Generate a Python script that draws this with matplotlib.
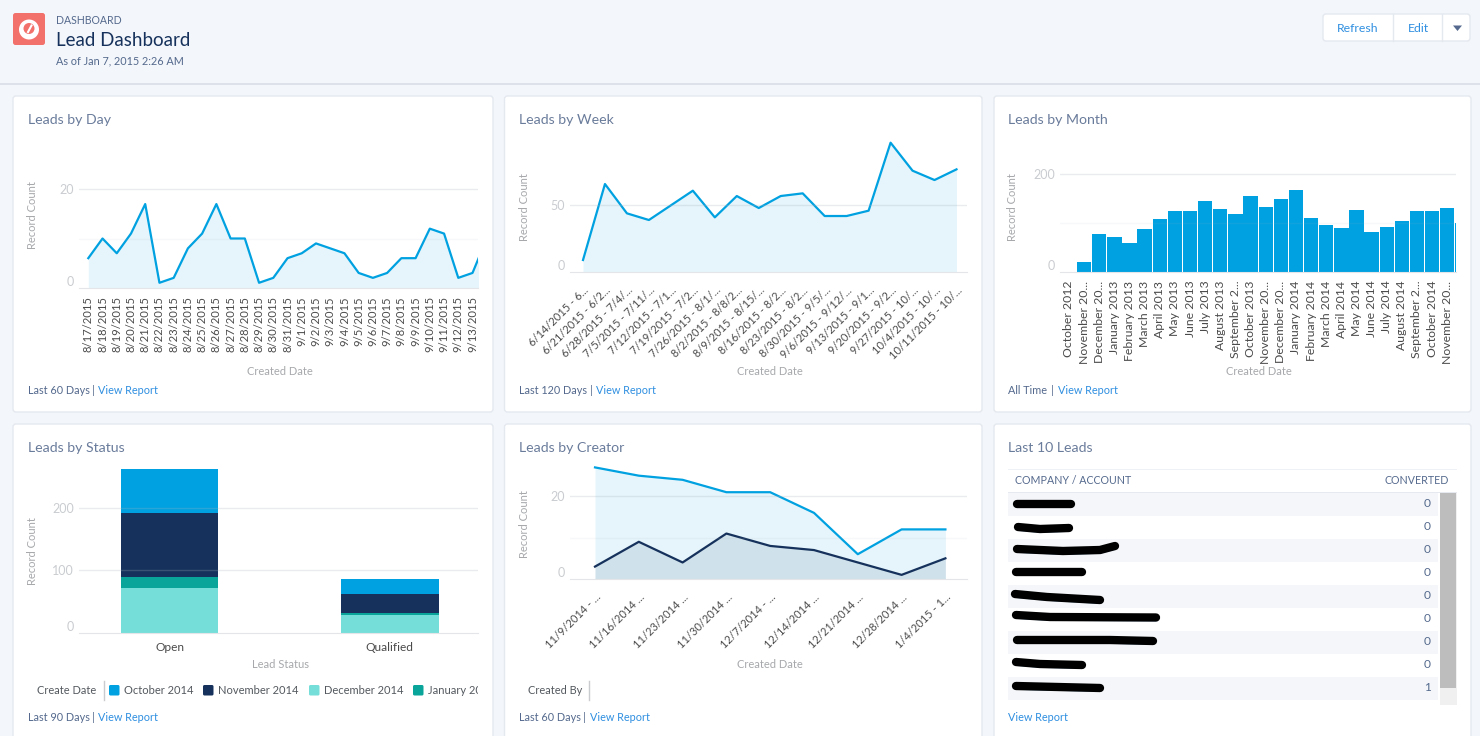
#!/usr/bin/env python3
# -*- coding: utf-8 -*-
import matplotlib
matplotlib.use("Agg")
import matplotlib.pyplot as plt
from matplotlib.patches import FancyBboxPatch, Rectangle, Circle

plt.rcParams['font.family'] = ['Lato', 'DejaVu Sans']

# data
day_labels = ["8/17/2015", "8/18/2015", "8/19/2015", "8/20/2015", "8/21/2015", "8/22/2015", "8/23/2015",
              "8/24/2015", "8/25/2015", "8/26/2015", "8/27/2015", "8/28/2015", "8/29/2015", "8/30/2015",
              "8/31/2015", "9/1/2015", "9/2/2015", "9/3/2015", "9/4/2015", "9/5/2015", "9/6/2015",
              "9/7/2015", "9/8/2015", "9/9/2015", "9/10/2015", "9/11/2015", "9/12/2015", "9/13/2015"]
# last value belongs to a day cut off by the card edge
day_values = [6, 10, 7, 11, 17, 1, 2, 8, 11, 17, 10, 10, 1, 2, 6, 7, 9, 8, 7, 3, 2, 3, 6, 6, 12, 11, 2, 3, 10]

week_labels = ["6/14/2015 - 6...", "6/21/2015 - 6/2...", "6/28/2015 - 7/4/...", "7/5/2015 - 7/11/...",
               "7/12/2015 - 7/1...", "7/19/2015 - 7/2...", "7/26/2015 - 8/1/...", "8/2/2015 - 8/8/2...",
               "8/9/2015 - 8/15/...", "8/16/2015 - 8/2...", "8/23/2015 - 8/2...", "8/30/2015 - 9/5/...",
               "9/6/2015 - 9/12/...", "9/13/2015 - 9/1...", "9/20/2015 - 9/2...", "9/27/2015 - 10/...",
               "10/4/2015 - 10/...", "10/11/2015 - 10/..."]
week_values = [9, 66, 44, 39, 50, 61, 41, 57, 48, 57, 59, 42, 42, 46, 97, 76, 69, 77]

month_labels = ["October 2012", "November 20...", "December 20...", "January 2013", "February 2013",
                "March 2013", "April 2013", "May 2013", "June 2013", "July 2013", "August 2013",
                "September 2...", "October 2013", "November 20...", "December 20...", "January 2014",
                "February 2014", "March 2014", "April 2014", "May 2014", "June 2014", "July 2014",
                "August 2014", "September 2...", "October 2014", "November 20..."]
month_values = [1, 20, 77, 72, 60, 89, 108, 124, 124, 144, 129, 119, 156, 132, 150, 167, 110, 96, 91, 127,
                81, 92, 105, 125, 124, 130, 100]

status_labels = ["Open", "Qualified"]
status_december = [72, 29]
status_january = [17, 4]
status_november = [103, 30]
status_october = [70, 23]

creator_labels = ["11/9/2014 - ...", "11/16/2014 ...", "11/23/2014 ...", "11/30/2014 ...", "12/7/2014 - ...",
                  "12/14/2014 ...", "12/21/2014 ...", "12/28/2014 ...", "1/4/2015 - 1..."]
creator_a = [27, 25, 24, 21, 21, 16, 6, 12, 12]
creator_b = [3, 9, 4, 11, 8, 7, 4, 1, 5]

converted = [0, 0, 0, 0, 0, 0, 0, 0, 1]

# colours
BLUE = "#00a1e0"
NAVY = "#16325c"
TEAL_LIGHT = "#76ded9"
TEAL = "#0aa59a"
SLATE = "#54698d"
LINK = "#2f8fe0"
PAGE = "#f3f6fa"
CORAL = "#f2716b"


def chart_axes(left, right, top, bottom, first_px, step_px, px_per_unit):
    # axes placed by pixels, index positions and values keep the picture's scale
    ax = fig.add_axes([left/W, 1-bottom/H, (right-left)/W, (bottom-top)/H], zorder=2)
    ax.patch.set_alpha(0)
    ax.set_xlim((left-first_px)/step_px, (right-first_px)/step_px)
    ax.set_ylim(0, (bottom-top)/px_per_unit)
    for s in ax.spines.values():
        s.set_visible(False)
    ax.spines['bottom'].set_visible(True)
    ax.spines['bottom'].set_color("#e3e5e8")
    ax.spines['bottom'].set_zorder(6)
    ax.tick_params(axis='both', length=0)
    return ax


def style_y(ax, major, minor=()):
    ax.set_yticks(major)
    ax.set_yticks(list(minor), minor=True)
    ax.tick_params(axis='y', which='both', length=0, pad=3.5, labelsize=9, labelcolor="#c9ccd0")
    ax.get_yticklabels()[0].set_va('bottom')
    for v in major[1:]:
        ax.axhline(v, color="#a9b2bd", alpha=0.25, lw=1, zorder=5)
    for v in minor:
        ax.axhline(v, color="#a9b2bd", alpha=0.09, lw=1, zorder=5)


def axis_labels(ax, xlabel, xpos, ypos):
    ax.set_xlabel(xlabel, fontsize=8, color="#a6a8ab", va='center')
    ax.xaxis.set_label_coords(xpos[0], xpos[1], transform=bg.transData)
    ax.set_ylabel("Record Count", fontsize=8, color="#a6a8ab", va='center')
    ax.yaxis.set_label_coords(ypos[0], ypos[1], transform=bg.transData)


def area(ax, values, color):
    xs = range(len(values))
    ax.fill_between(xs, values, color=color, alpha=0.1, lw=0, zorder=2)
    ax.plot(xs, values, color=color, lw=1.6, zorder=3, solid_joinstyle='round')


def card(x0, y0, x1, y1):
    bg.add_patch(FancyBboxPatch((x0, y0), x1-x0, y1-y0, boxstyle="round,pad=0,rounding_size=3",
                                fc="white", ec="#e4e9f0", lw=1))


def card_text(x, y, title, footer, link_x):
    bg.text(x, y+1, title, fontsize=10.2, color="#6a7c9b", va='center')
    foot_y = 390 if y < 300 else 717.5
    if footer:
        bg.text(x, foot_y, footer, fontsize=7.8, color=SLATE, va='center')
        bg.text(link_x-5, foot_y, "|", fontsize=7.8, color=SLATE, va='center', ha='center')
    bg.text(link_x, foot_y, "View Report", fontsize=7.8, color=LINK, va='center')


W, H = 1480, 736
fig = plt.figure(figsize=(W/100, H/100), dpi=100, facecolor=PAGE)
bg = fig.add_axes([0, 0, 1, 1], zorder=1)
bg.set_xlim(0, W)
bg.set_ylim(H, 0)
bg.axis('off')

# page header
bg.add_patch(Rectangle((0, 83), W, 2, fc="#dde2ea", ec="none"))
bg.add_patch(FancyBboxPatch((13, 13), 32, 32, boxstyle="round,pad=0,rounding_size=2.5", fc=CORAL, ec="none"))
bg.add_patch(Circle((29, 29.5), 10, fc="white", ec="none"))
bg.add_patch(Circle((29, 28.5), 5.5, fc=CORAL, ec="none"))
bg.plot([28, 31.5], [32, 25.5], color="white", lw=1.5)
bg.text(56, 20, "DASHBOARD", fontsize=7.6, color=SLATE, va='center')
bg.text(56, 40.5, "Lead Dashboard", fontsize=13.5, color=NAVY, va='center')
bg.text(56, 61, "As of Jan 7, 2015 2:26 AM", fontsize=7.8, color=SLATE, va='center')

bg.add_patch(FancyBboxPatch((1323, 14), 147, 27, boxstyle="round,pad=0,rounding_size=3", fc="white", ec="#e4e9f0", lw=1))
bg.plot([1393, 1393], [14, 41], color="#e4e9f0", lw=1)
bg.plot([1442, 1442], [14, 41], color="#e4e9f0", lw=1)
bg.text(1358, 28, "Refresh", fontsize=8.8, color=LINK, ha='center', va='center')
bg.text(1418, 28, "Edit", fontsize=8.8, color=LINK, ha='center', va='center')
bg.fill([1453, 1462, 1457.5], [25.5, 25.5, 31], color=SLATE, lw=0)

# cards
card(13, 96, 493, 412)
card(504.5, 96, 982, 412)
card(994, 96, 1471, 412)
card(13, 424, 493, 760)
card(504.5, 424, 982, 760)
card(994, 424, 1471, 760)
card_text(28, 119, "Leads by Day", "Last 60 Days", 98)
card_text(519, 119, "Leads by Week", "Last 120 Days", 596)
card_text(1008, 119, "Leads by Month", "All Time", 1057.5)
card_text(28, 447, "Leads by Status", "Last 90 Days", 98)
card_text(519, 447, "Leads by Creator", "Last 60 Days", 589.5)
card_text(1008, 447, "Last 10 Leads", "", 1008)

# Leads by Day
ax = chart_axes(79, 478, 140, 287.7, 88.3, 14.23, 4.92)
area(ax, day_values, BLUE)
ax.set_xticks(range(len(day_labels)), day_labels, rotation=90, fontsize=8.1, color="#4a4a4a")
ax.tick_params(axis='x', pad=6)
style_y(ax, [0, 20], [10])
axis_labels(ax, "Created Date", (280, 371.5), (32, 215))

# Leads by Week
ax = chart_axes(570, 967, 130, 272, 583, 21.97, 1.333)
area(ax, week_values, BLUE)
ax.set_xticks(range(len(week_labels)), week_labels, rotation=45, fontsize=7.9, color="#4a4a4a",
              ha='right', va='top', rotation_mode='anchor')
ax.tick_params(axis='x', pad=9)
style_y(ax, [0, 50])
axis_labels(ax, "Created Date", (770, 371.5), (524, 207))

# Leads by Month
ax = chart_axes(1060, 1456, 160, 272.3, 1069, 15.13, 0.4917)
ax.bar(range(len(month_values)), month_values, width=0.95, color="#00a1e0", zorder=2)
ax.set_xticks(range(len(month_labels)), month_labels, rotation=90, fontsize=8.8, color="#4a4a4a")
ax.tick_params(axis='x', pad=6)
style_y(ax, [0, 200], [100])
axis_labels(ax, "Created Date", (1259, 371.5), (1013, 207))

# Leads by Status
ax = chart_axes(79, 478, 460, 633.3, 169.5, 220.3, 0.6283)
bottom = [0, 0]
for vals, col in [(status_december, TEAL_LIGHT), (status_january, TEAL),
                  (status_november, NAVY), (status_october, BLUE)]:
    ax.bar(range(2), vals, width=0.443, bottom=bottom, color=col, zorder=2)
    bottom = [b+v for b, v in zip(bottom, vals)]
ax.set_xticks(range(2), status_labels, fontsize=8.6, color="#4a4a4a")
ax.tick_params(axis='x', pad=6.5)
style_y(ax, [0, 100, 200])
axis_labels(ax, "Lead Status", (280, 665), (32, 551))

# legend, runs off the card area like in the dashboard
bg.text(37, 690, "Create Date", fontsize=7.9, color="#54595f", va='center')
bg.plot([103.5, 103.5], [681, 700], color="#c9cbce", lw=1)
legend_items = [(109, "October 2014", BLUE), (203, "November 2014", NAVY),
                (309, "December 2014", TEAL_LIGHT), (413, "January 2015", TEAL)]
clip = Rectangle((0, 0), 478, H, transform=bg.transData)
for x, name, col in legend_items:
    bg.add_patch(FancyBboxPatch((x, 685), 10.5, 10.5, boxstyle="round,pad=0,rounding_size=1.5", fc=col, ec="none"))
    t = bg.text(x+15, 690, name, fontsize=8, color="#54595f", va='center', clip_on=True)
    t.set_clip_path(clip)

# Leads by Creator
ax = chart_axes(570, 967, 460, 579, 595, 43.8, 4.133)
area(ax, creator_a, BLUE)
area(ax, creator_b, NAVY)
ax.set_xticks(range(len(creator_labels)), creator_labels, rotation=45, fontsize=7.9, color="#4a4a4a",
              ha='right', va='top', rotation_mode='anchor')
ax.tick_params(axis='x', pad=9)
style_y(ax, [0, 20], [10])
axis_labels(ax, "Created Date", (770, 665), (524, 524))
bg.text(528, 690, "Created By", fontsize=7.9, color="#54595f", va='center')
bg.plot([589, 589], [681, 700], color="#c9cbce", lw=1)

# Last 10 Leads table
row_h = 23.1
bg.add_patch(Rectangle((1008, 468.5), 448.5, 1, fc="#eef1f6", ec="none"))
bg.add_patch(Rectangle((1008, 491.5), 448.5, 1, fc="#e6eaf0", ec="none"))
bg.text(1015, 480, "COMPANY / ACCOUNT", fontsize=7.7, color=SLATE, va='center')
bg.text(1449, 480, "CONVERTED", fontsize=7.7, color=SLATE, va='center', ha='right')
for i, val in enumerate(converted):
    y = 492.5 + i*row_h
    if i % 2 == 0:
        bg.add_patch(Rectangle((1008, y), 430, row_h, fc="#f4f6f9", ec="none"))
    bg.text(1431, y+row_h/2-1, str(val), fontsize=8.6, color=SLATE, va='center', ha='right')
bg.add_patch(Rectangle((1440, 492.5), 16.5, 212.5, fc="#f0f0f0", ec="none"))
bg.add_patch(Rectangle((1440, 492.5), 16, 195, fc="#bdbdbd", ec="none"))

# company names are blacked out in the screenshot
scribbles = [([1017, 1071], [504, 504]),
             ([1018, 1040, 1069], [527, 529, 528]),
             ([1017, 1063, 1100, 1115], [549, 551, 550, 546]),
             ([1016, 1082], [572, 572]),
             ([1015, 1047, 1100], [594, 597, 600]),
             ([1016, 1050, 1156], [615, 617, 617.5]),
             ([1017, 1110, 1153], [640, 640, 641]),
             ([1016, 1040, 1082], [662, 664, 665]),
             ([1016, 1100], [686, 688])]
for xs, ys in scribbles:
    bg.plot(xs, [y+3 for y in ys], color=LINK, lw=1.2, alpha=0.6)
    bg.plot(xs, ys, color="black", lw=6, solid_capstyle='round', solid_joinstyle='round')

fig.savefig("out.png", dpi=100, facecolor=PAGE)
